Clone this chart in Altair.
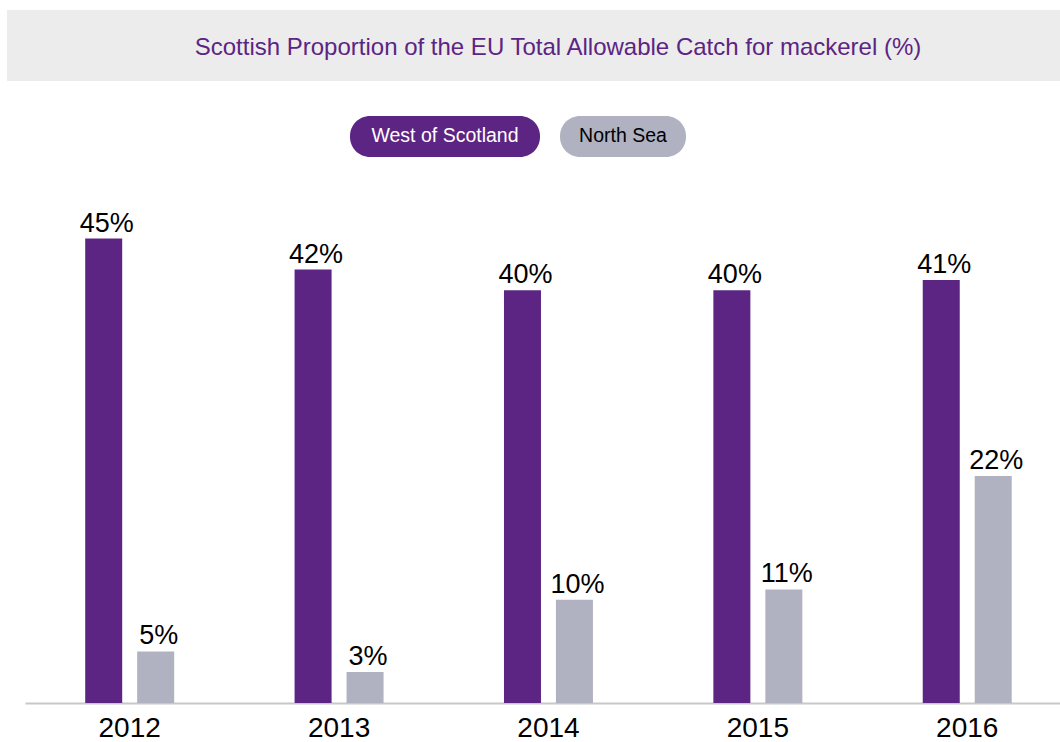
import altair as alt
import pandas as pd

years = ["2012", "2013", "2014", "2015", "2016"]
west_of_scotland = [45, 42, 40, 40, 41]
north_sea = [5, 3, 10, 11, 22]
series = ["West of Scotland", "North Sea"]
colors = ["#5c2483", "#b0b2c1"]

rows = []
for i, y in enumerate(years):
    rows.append({"year": y, "series": series[0], "value": west_of_scotland[i], "label": f"{west_of_scotland[i]}%"})
    rows.append({"year": y, "series": series[1], "value": north_sea[i], "label": f"{north_sea[i]}%"})
df = pd.DataFrame(rows)

FONT = "Liberation Sans"
one = pd.DataFrame({"k": [0]})

x_enc = alt.X("year:N", sort=years, title=None,
              scale=alt.Scale(paddingInner=0.575, paddingOuter=0.259, align=0.555),
              axis=alt.Axis(labelAngle=0, labelFontSize=28, labelColor="#000000", labelFont=FONT,
                            labelPadding=11, ticks=False, domainColor="#c8c8c8", domainWidth=2))
xo_enc = alt.XOffset("series:N", sort=series, scale=alt.Scale(paddingInner=0.288, paddingOuter=0))
y_enc = alt.Y("value:Q", scale=alt.Scale(domain=[0, 50]), axis=None)
c_enc = alt.Color("series:N", sort=series, scale=alt.Scale(domain=series, range=colors), legend=None)

base = alt.Chart(df).encode(x=x_enc, xOffset=xo_enc, y=y_enc)
bars = base.mark_bar().encode(color=c_enc)
labels = base.mark_text(baseline="bottom", dy=-1, dx=3, fontSize=27, font=FONT, color="#000000").encode(text="label:N")

band = alt.Chart(one).mark_rect(color="#ececec").encode(
    x=alt.value(-18), x2=alt.value(1035), y=alt.value(-177), y2=alt.value(-106))
title = alt.Chart(one).mark_text(text="Scottish Proportion of the EU Total Allowable Catch for mackerel (%)",
                                 fontSize=24, font=FONT, color="#5c2483", align="center", baseline="middle").encode(
    x=alt.value(533), y=alt.value(-139))

pill1 = alt.Chart(one).mark_rect(color=colors[0], cornerRadius=20).encode(
    x=alt.value(325), x2=alt.value(515), y=alt.value(-71), y2=alt.value(-30))
pill1t = alt.Chart(one).mark_text(text=series[0], fontSize=19.5, font=FONT, color="#ffffff",
                                  align="center", baseline="middle").encode(x=alt.value(420), y=alt.value(-51))
pill2 = alt.Chart(one).mark_rect(color=colors[1], cornerRadius=20).encode(
    x=alt.value(535), x2=alt.value(661), y=alt.value(-71), y2=alt.value(-30))
pill2t = alt.Chart(one).mark_text(text=series[1], fontSize=19.5, font=FONT, color="#000000",
                                  align="center", baseline="middle").encode(x=alt.value(598), y=alt.value(-51))

chart = alt.layer(band, title, pill1, pill1t, pill2, pill2t, bars, labels).properties(
    width=1035, height=516,
    padding={"left": 25, "top": 187, "right": 0, "bottom": 39},
    autosize=alt.AutoSizeParams(type="none"),
    background="#ffffff",
).configure_view(strokeWidth=0)

chart.save("out.html", embed_options={"renderer": "svg", "actions": False})
